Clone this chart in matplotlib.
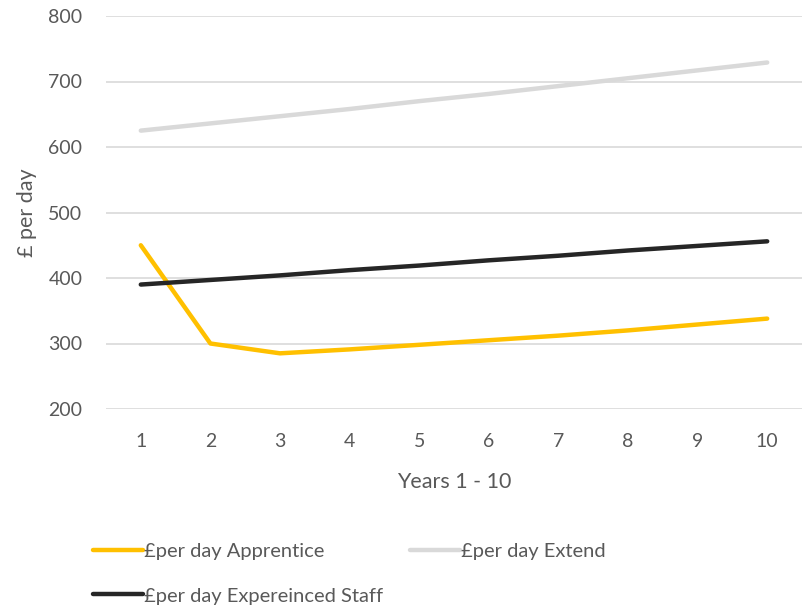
import matplotlib
matplotlib.use('Agg')
import matplotlib.pyplot as plt

plt.rcParams['font.family'] = ['Lato', 'DejaVu Sans']

years = [1, 2, 3, 4, 5, 6, 7, 8, 9, 10]
apprentice = [450, 300, 285, 291, 298, 305, 312, 320, 329, 338]
extend = [625, 636, 647, 658, 670, 681, 693, 705, 717, 729]
experienced = [390, 397, 404, 412, 419, 427, 434, 442, 449, 456]

text_col = '#595959'
grid_col = '#D9D9D9'

fig = plt.figure(figsize=(8.08, 6.10), dpi=100)
ax = fig.add_axes([106 / 808, 1 - 409 / 610, (802 - 106) / 808, (409 - 16) / 610])

l1, = ax.plot(years, apprentice, color='#FFC000', lw=3.2, solid_capstyle='round',
              label='£per day Apprentice')
l2, = ax.plot(years, extend, color='#D9D9D9', lw=3.2, solid_capstyle='round',
              label='£per day Extend')
l3, = ax.plot(years, experienced, color='#262626', lw=3.2, solid_capstyle='round',
              label='£per day Expereinced Staff')

ax.set_xlim(0.5, 10.5)
ax.set_ylim(200, 800)
ax.set_xticks(years)
ax.set_yticks(range(200, 801, 100))
ax.grid(axis='y', color=grid_col, lw=1.2)
ax.set_axisbelow(True)
for s in ax.spines.values():
    s.set_visible(False)
ax.tick_params(length=0, labelsize=14, colors=text_col, pad=17)
ax.tick_params(axis='y', pad=17)

ax.set_xlabel('Years 1 - 10', fontsize=15.5, color=text_col, labelpad=16)
ax.set_ylabel('£ per day', fontsize=15.5, color=text_col, labelpad=8)

fig.legend(handles=[l1, l3, l2], ncol=2, loc='upper left',
           bbox_to_anchor=(75 / 808, 1 - 525 / 610), frameon=False,
           fontsize=14.5, labelcolor=text_col, handlelength=2.5,
           handletextpad=0.05, columnspacing=1.3, labelspacing=1.35)

fig.savefig('out.png', dpi=100)
